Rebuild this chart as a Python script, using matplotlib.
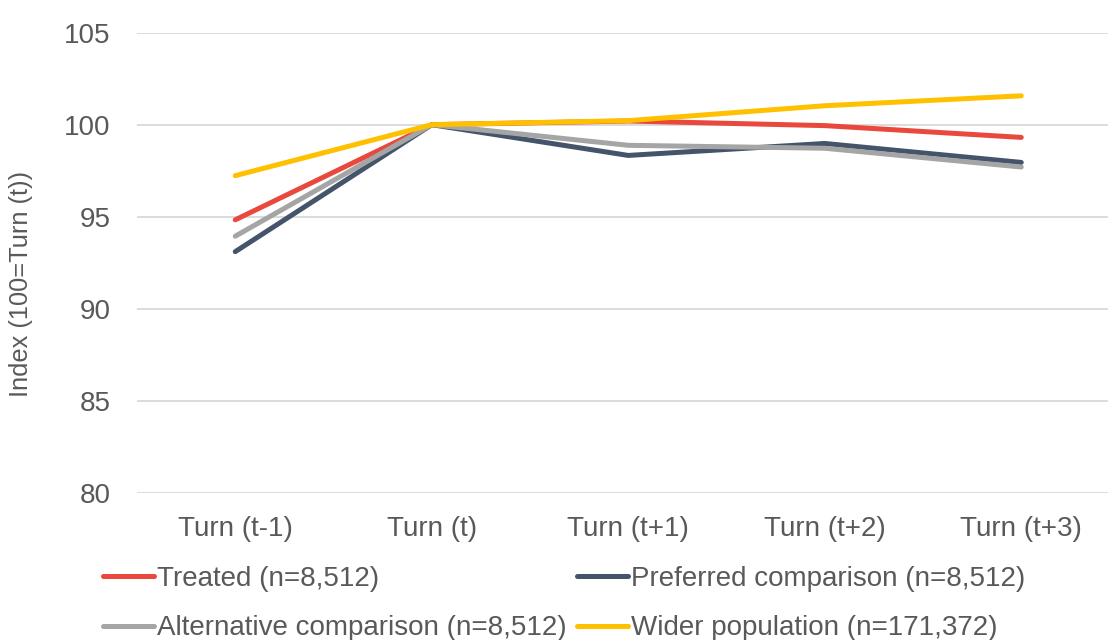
import matplotlib
matplotlib.use("Agg")
import matplotlib.pyplot as plt

plt.rcParams['font.family'] = ['Liberation Sans', 'DejaVu Sans']

periods = ["Turn (t-1)", "Turn (t)", "Turn (t+1)", "Turn (t+2)", "Turn (t+3)"]

treated = [94.83, 100.0, 100.2, 99.95, 99.31]
preferred = [93.1, 100.0, 98.33, 98.98, 97.95]
alternative = [93.94, 100.0, 98.88, 98.72, 97.7]
wider = [97.23, 100.0, 100.22, 101.03, 101.57]

series_names = [
    "Treated (n=8,512)",
    "Preferred comparison (n=8,512)",
    "Alternative comparison (n=8,512)",
    "Wider population (n=171,372)",
]
series_colors = ["#E8493C", "#44546A", "#A5A5A5", "#FFC000"]

fig = plt.figure(figsize=(11.08, 6.4), dpi=100)
ax = fig.add_axes([137 / 1108, 147.3 / 640, 982.5 / 1108, 460 / 640])

x = list(range(len(periods)))
lines = []
for vals, name, col in zip([treated, preferred, alternative, wider], series_names, series_colors):
    ln, = ax.plot(x, vals, color=col, linewidth=3.6, label=name,
                  solid_capstyle='round', solid_joinstyle='round')
    lines.append(ln)

ax.set_xlim(-0.5, len(periods) - 0.5)
ax.set_ylim(80, 105)
ax.set_yticks([80, 85, 90, 95, 100, 105])
ax.set_xticks(x)
ax.set_xticklabels(periods)

ax.grid(axis='y', color='#D9D9D9', linewidth=1.3)
ax.set_axisbelow(True)
for s in ax.spines.values():
    s.set_visible(False)
ax.tick_params(axis='both', length=0, labelsize=20, colors='#595959')
ax.tick_params(axis='y', pad=19)
ax.tick_params(axis='x', pad=17)
ax.set_ylabel("Index (100=Turn (t))", fontsize=18.3, color='#595959')
ax.yaxis.set_label_coords(-0.106, 0.453)

# legend fills column by column, so reorder to read row by row
order = [0, 2, 1, 3]
fig.legend([lines[i] for i in order], [series_names[i] for i in order],
           loc='upper left', bbox_to_anchor=(103 / 1108, 1 - 566 / 640),
           ncol=2, frameon=False, fontsize=20, handlelength=1.85,
           handletextpad=0.1, columnspacing=0.35, labelspacing=0.84,
           borderpad=0, borderaxespad=0, labelcolor='#595959')

fig.savefig("out.png", dpi=100)
